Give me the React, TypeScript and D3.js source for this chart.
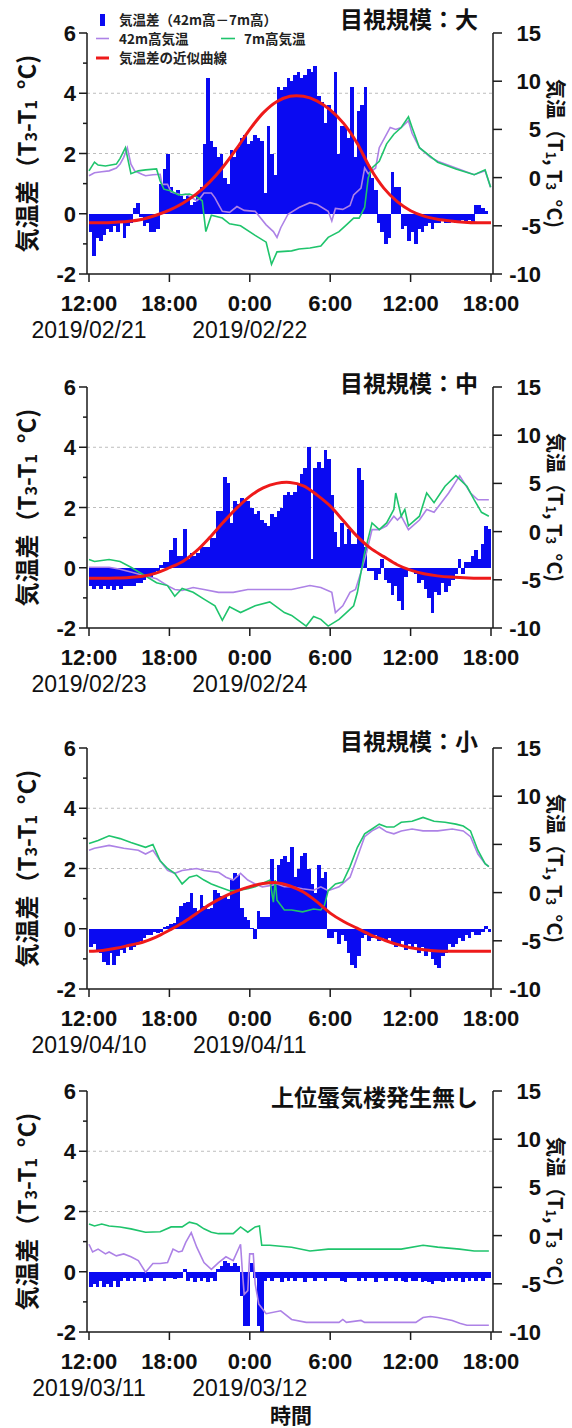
import React from 'react';
import * as d3 from 'd3';

// ---------- shared axis data ----------
const tickHours = [0, 6, 12, 18, 24, 30];
const tickLabels = ['12:00', '18:00', '0:00', '6:00', '12:00', '18:00'];
const leftTicks = [6, 4, 2, 0, -2];
const leftMinor = [5, 3, 1, -1];
const rightTicks = [15, 10, 5, 0, -5, -10];
const gridValues = [4, 2];
const redHours = d3.range(0, 31);

const titles = ['目視規模：大', '目視規模：中', '目視規模：小', '上位蜃気楼発生無し'];
const dates = [
  ['2019/02/21', '2019/02/22'],
  ['2019/02/23', '2019/02/24'],
  ['2019/04/10', '2019/04/11'],
  ['2019/03/11', '2019/03/12'],
];

// ---------- temperature difference bars (15-min steps from 12:00) ----------
const diff1 = [
  -0.6, -1.4, -0.8, -0.9, -0.7, -0.5, -0.6, -0.4, -0.6, -0.3, -0.8, -0.4,
  -0.3, 0.2, 0.35, -0.1, -0.4, -0.3, -0.6, -0.6, -0.5, 1.0, 1.5, 2.0,
  0.9, 0.7, 0.8, 0.6, 0.5, 0.6, 0.3, 0.4, 0.7, 0.9, 2.3, 4.5,
  2.4, 2.2, 1.9, 2.0, 1.2, 1.0, 2.1, 1.9, 2.2, 2.5, 2.6, 2.3,
  2.4, 2.6, 2.5, 2.4, 0.7, 2.9, 2.0, 1.3, 4.2, 4.1, 4.2, 4.5,
  4.4, 4.6, 4.7, 4.5, 4.6, 4.8, 4.7, 4.9, 3.9, 3.7, 3.0, 3.6,
  3.4, 4.7, 2.0, 2.9, 2.9, 2.5, 4.2, 1.9, 3.4, 3.6, 4.2, 1.6,
  1.2, 0.8, -0.3, -0.6, -1.0, -0.8, 1.4, 0.9, 0.9, -0.5, -0.4, -0.9,
  -0.6, -1.0, -0.5, -0.6, -0.4, -0.3, -0.5, -0.3, -0.3, -0.2, -0.3, -0.3,
  -0.2, -0.3, -0.3, -0.2, -0.3, -0.2, -0.3, 0.3, 0.3, 0.2, 0.1, 0.0,
];
const diff2 = [
  -0.6, -0.7, -0.6, -0.7, -0.6, -0.7, -0.6, -0.75, -0.6, -0.7, -0.6, -0.6,
  -0.6, -0.6, -0.5, -0.5, -0.4, -0.3, -0.3, -0.2, -0.1, 0.1, 0.2, 0.2,
  0.6, 1.0, 0.4, 0.4, 1.3, 0.3, 0.5, 0.4, 0.5, 0.7, 0.7, 0.7,
  1.0, 1.0, 1.9, 1.9, 3.0, 2.8, 1.5, 2.2, 2.1, 2.3, 2.2, 2.2,
  2.0, 1.8, 1.9, 1.6, 1.5, 1.4, 1.8, 1.7, 1.9, 2.0, 2.4, 2.5,
  2.4, 2.5, 2.8, 3.1, 3.3, 4.0, 0.3, 3.3, 3.5, 3.3, 3.9, 3.6,
  2.4, 1.2, 0.7, 1.5, 0.8, 1.3, 0.8, 0.8, 3.3, 2.9, 0.7, -0.1,
  -0.1, -0.4, -0.2, 0.3, -0.4, -0.5, -0.9, -0.6, -1.1, -1.4, -0.3, -0.1,
  -0.1, -0.2, -0.5, -0.4, -0.7, -1.0, -1.5, -0.8, -0.9, -0.5, -0.8, -0.6,
  -0.4, -0.2, 0.3, -0.2, 0.2, 0.2, 0.4, 0.6, 0.3, 0.8, 1.4, 1.3,
];
const diff3 = [
  -0.6, -0.5, -0.7, -0.8, -1.1, -1.2, -0.8, -1.2, -0.9, -0.7, -0.8, -0.6,
  -0.7, -0.6, -0.5, -0.4, -0.3, -0.2, -0.2, -0.1, -0.15, -0.1, 0.07, 0.1,
  0.15, 0.18, 0.4, 0.75, 0.85, 0.9, 1.18, 0.7, 0.6, 1.12, 0.75, 0.65,
  0.7, 1.3, 1.2, 1.1, 1.1, 1.0, 1.62, 1.84, 1.8, 0.7, 0.4, 0.3,
  0.02, -0.35, 0.6, 0.4, 0.4, 0.4, 2.3, 1.5, 2.1, 2.3, 2.4, 2.2,
  2.7, 1.73, 2.0, 2.4, 2.5, 2.0, 1.5, 1.2, 2.1, 1.7, 1.9, -0.3,
  -0.3, -0.1, -0.5, -0.2, -0.4, -0.8, -1.2, -1.3, -0.9, -0.3, -0.2, -0.4,
  -0.3, -0.2, -0.4, -0.3, -0.4, -0.3, -0.5, -0.6, -0.5, -0.4, -0.7, -0.5,
  -0.6, -0.5, -0.8, -0.6, -0.9, -0.7, -1.0, -1.2, -1.3, -0.9, -0.8, -0.5,
  -0.6, -0.5, -0.3, -0.4, -0.2, -0.3, -0.1, -0.2, -0.2, -0.1, 0.1, -0.1,
];
const diff4 = [
  -0.5, -0.4, -0.5, -0.3, -0.5, -0.4, -0.5, -0.3, -0.5, -0.3, -0.2, -0.3,
  -0.2, -0.3, -0.2, -0.2, -0.35, -0.2, -0.3, -0.2, -0.2, -0.2, -0.3, -0.2,
  -0.2, -0.25, -0.2, -0.2, 0.1, -0.3, -0.2, -0.35, -0.2, -0.3, -0.2, -0.35,
  -0.2, -0.3, 0.1, 0.2, 0.35, 0.3, 0.2, 0.3, 0.2, -0.8, -1.8, -1.8,
  0.3, -0.2, -1.8, -2.0, -0.3, -0.2, -0.3, -0.2, -0.2, -0.35, -0.2, -0.3,
  -0.2, -0.3, -0.2, -0.2, -0.35, -0.2, -0.2, -0.3, -0.2, -0.2, -0.3, -0.2,
  -0.2, -0.2, -0.2, -0.3, -0.35, -0.2, -0.2, -0.2, -0.3, -0.2, -0.3, -0.2,
  -0.2, -0.35, -0.2, -0.2, -0.3, -0.2, -0.2, -0.3, -0.2, -0.3, -0.35, -0.2,
  -0.3, -0.3, -0.2, -0.35, -0.3, -0.35, -0.4, -0.3, -0.3, -0.35, -0.2, -0.3,
  -0.2, -0.3, -0.2, -0.35, -0.2, -0.3, -0.2, -0.3, -0.2, -0.3, -0.2, -0.2,
];

// ---------- 42m air temperature [hours after 12:00, °C] ----------
const t42_1 = [
  [0, 0.2], [0.41, 0.5], [0.95, 0.6], [1.5, 0.7], [2.04, 1.0], [2.32, 1.4], [2.59, 2.1], [2.86, 3.1],
  [3.13, 1.4], [3.41, 0.7], [3.95, 0.35], [4.22, 0.2], [4.77, 0.3], [5.31, 0.35], [5.45, -0.7], [5.86, -0.7],
  [6.13, -1.5], [6.95, -1.8], [7.22, -1.7], [8.04, -2.4], [8.31, -2.1], [8.58, -1.6], [9.13, -1.6], [9.4, -2.1],
  [9.67, -2.8], [9.95, -3.5], [10.49, -3.6], [11.04, -3.0], [11.58, -3.4], [12.4, -3.5], [13.22, -4.9], [13.76, -5.6],
  [14.03, -6.2], [14.31, -5.2], [14.85, -3.8], [15.67, -3.1], [16.49, -2.6], [17.03, -2.8], [17.85, -3.5], [18.12, -4.5],
  [18.39, -3.2], [18.94, -3.3], [19.48, -2.9], [19.75, -1.8], [20.3, -1.1], [20.57, 1.0], [20.84, 0.4], [21.39, 1.0],
  [21.66, 3.1], [22.21, 4.5], [22.48, 5.2], [22.89, 5.0], [23.3, 5.2], [23.84, 5.9], [24.11, 4.6], [24.66, 3.1],
  [25.48, 2.1], [26.02, 1.7], [27.38, 1.0], [28.75, 0.3], [29.56, 0.7], [29.97, -1.0],
];
const t42_2 = [
  [0, -3.7], [1.5, -3.7], [2.32, -3.9], [3.13, -4.2], [4.22, -4.6], [5.04, -4.9], [5.86, -5.6], [6.4, -6.0],
  [6.95, -6.1], [7.77, -5.8], [8.58, -6.0], [9.67, -6.3], [10.76, -6.3], [11.85, -6.0], [12.94, -6.0], [14.03, -6.0],
  [15.12, -6.0], [16.49, -5.6], [17.3, -5.8], [18.12, -6.3], [18.39, -8.4], [18.94, -7.7], [19.48, -6.3], [19.89, -6.0],
  [20.3, -4.2], [20.71, -2.2], [21.12, 0.2], [21.66, 0.2], [22.21, 0.6], [22.75, 1.6], [23.02, 1.2], [23.3, 1.6],
  [23.84, 0.2], [24.66, 1.2], [25.2, 2.3], [25.75, 2.0], [26.29, 3.0], [26.84, 4.0], [27.66, 5.8], [28.47, 4.0],
  [29.02, 3.3], [29.84, 3.3],
];
const t42_3 = [
  [0, 4.4], [0.41, 4.6], [1.5, 4.9], [2.59, 4.6], [3.68, 4.4], [4.22, 4.0], [4.77, 4.4], [5.31, 3.3],
  [5.86, 2.3], [6.4, 2.0], [6.95, 2.3], [8.04, 2.5], [8.58, 2.3], [9.67, 2.1], [10.22, 1.6], [10.76, 1.3],
  [11.31, 2.0], [11.85, 1.3], [12.4, 0.9], [12.94, 0.6], [13.62, 0.75], [14.03, 0.9], [14.58, 0.6], [15.12, 0.6],
  [15.94, 0.4], [16.76, 0.25], [17.3, 0.6], [17.85, 0.2], [18.66, 0.6], [19.48, 1.6], [20.03, 3.7], [20.57, 5.8],
  [21.12, 6.4], [21.66, 6.8], [22.21, 6.3], [22.75, 6.1], [23.3, 6.4], [24.11, 6.6], [24.93, 6.4], [26.02, 6.4],
  [27.11, 6.6], [27.93, 6.4], [28.47, 5.8], [29.02, 4.0], [29.56, 3.0], [29.84, 2.7],
];
const t42_4 = [
  [0, -0.9], [0.27, -1.7], [0.68, -1.4], [1.23, -1.9], [1.5, -1.7], [2.04, -2.1], [2.59, -1.9], [3.13, -2.2],
  [3.68, -2.6], [4.22, -3.8], [4.77, -2.9], [5.31, -2.9], [5.86, -2.8], [6.27, -1.4], [6.68, -1.7], [6.95, -1.6],
  [7.22, -0.7], [7.63, 0.3], [8.04, -1.2], [8.58, -2.8], [9.13, -3.5], [9.67, -2.8], [10.22, -2.2], [10.76, -2.6],
  [11.31, -0.9], [11.44, -3.6], [11.58, -6.1], [11.85, -5.7], [11.99, -1.9], [12.26, -1.9], [12.4, -5.0], [12.67, -7.1],
  [13.22, -8.1], [14.31, -7.8], [15.12, -8.7], [16.21, -9.0], [18.66, -9.0], [18.94, -8.7], [19.21, -9.0], [20.3, -8.8],
  [20.57, -9.0], [24.39, -9.0], [24.93, -8.5], [25.48, -8.4], [26.02, -8.5], [27.11, -8.8], [27.66, -9.1], [28.2, -9.3],
  [29.84, -9.3],
];

// ---------- 7m air temperature [hours after 12:00, °C] ----------
const t7_1 = [
  [0, 0.7], [0.41, 1.6], [0.68, 1.3], [1.23, 1.2], [2.04, 1.4], [2.32, 2.0], [2.72, 3.1], [3.13, 0.4],
  [3.68, 0.7], [4.22, 0.8], [5.04, 0.9], [5.31, -0.35], [5.59, -1.2], [6.13, -1.4], [6.68, -1.8], [7.49, -1.7],
  [8.04, -2.0], [8.45, -2.4], [8.72, -5.6], [9.13, -3.9], [9.95, -4.2], [10.49, -4.8], [11.31, -5.0], [12.4, -6.0],
  [13.22, -6.7], [13.62, -9.0], [14.03, -7.7], [15.12, -7.6], [15.67, -7.4], [16.49, -7.3], [17.3, -7.1], [17.85, -6.2],
  [18.66, -5.6], [19.21, -4.9], [19.75, -4.2], [20.16, -4.2], [20.57, -3.1], [20.84, 0.0], [21.12, 1.0], [21.66, 1.7],
  [22.21, 3.5], [22.75, 4.5], [23.3, 5.2], [23.84, 6.3], [24.11, 5.2], [24.66, 3.1], [25.48, 2.2], [26.02, 1.6],
  [27.38, 0.9], [28.75, 0.3], [29.56, 0.8], [29.97, -1.0],
];
const t7_2 = [
  [0, -2.9], [0.41, -3.1], [1.5, -2.9], [2.32, -3.1], [3.13, -3.7], [4.22, -4.6], [5.04, -5.3], [5.86, -5.6],
  [6.4, -6.7], [6.95, -5.9], [7.77, -6.3], [8.58, -7.0], [9.4, -7.7], [9.95, -9.2], [10.49, -7.8], [11.31, -8.4],
  [12.4, -7.7], [13.49, -7.3], [14.58, -8.4], [15.12, -8.7], [16.21, -9.8], [16.76, -8.8], [17.3, -9.1], [17.85, -9.8],
  [18.66, -9.1], [19.21, -8.4], [19.75, -7.7], [20.03, -6.3], [20.3, -4.2], [20.57, -2.2], [21.12, 0.9], [21.66, 0.2],
  [22.21, 0.9], [22.75, 2.3], [22.89, 4.0], [23.3, 1.6], [23.57, 2.3], [23.84, 0.6], [24.66, 1.6], [25.2, 4.0],
  [25.75, 3.0], [26.57, 4.7], [27.38, 5.8], [28.2, 4.7], [28.75, 3.3], [29.29, 2.0], [29.84, 1.6],
];
const t7_3 = [
  [0, 5.1], [0.68, 5.4], [1.5, 5.9], [2.32, 5.6], [3.13, 5.2], [4.22, 4.7], [4.77, 5.0], [5.31, 3.3],
  [5.86, 2.5], [6.4, 2.0], [6.95, 0.9], [7.49, 1.6], [8.04, 1.8], [8.58, 1.3], [9.13, 0.9], [9.67, 0.6],
  [10.49, 0.2], [11.04, 0.2], [11.85, 0.4], [12.4, 0.6], [13.49, 1.3], [13.76, -1.0], [13.9, 1.3], [14.03, -0.8],
  [14.58, -1.8], [15.12, -1.8], [15.94, -2.0], [16.76, -1.7], [17.3, -1.8], [17.57, -1.3], [17.85, 0.2], [18.39, 0.9],
  [18.94, 1.1], [19.48, 2.7], [20.03, 4.7], [20.57, 6.1], [21.12, 6.6], [21.66, 7.1], [22.21, 6.8], [22.75, 6.8],
  [23.3, 7.3], [24.11, 7.4], [24.93, 7.8], [25.75, 7.4], [26.57, 7.3], [27.38, 7.1], [27.93, 6.9], [28.47, 6.4],
  [29.02, 4.4], [29.56, 3.0], [29.84, 2.7],
];
const t7_4 = [
  [0, 1.2], [0.41, 1.0], [0.95, 1.2], [1.5, 1.0], [2.32, 0.9], [3.13, 0.7], [4.22, 0.35], [5.31, 0.4],
  [6.13, 0.9], [6.95, 0.9], [7.49, 1.4], [8.04, 1.2], [8.58, 0.7], [9.13, 0.35], [9.67, 0.2], [10.76, 0.2],
  [11.31, 0.9], [11.85, 0.35], [12.4, 0.9], [12.72, 1.0], [12.89, -1.0], [13.49, -1.0], [15.12, -1.2], [16.49, -1.6],
  [17.85, -1.4], [20.57, -1.4], [23.3, -1.4], [24.93, -1.0], [26.02, -1.2], [27.66, -1.4], [28.75, -1.6], [29.84, -1.6],
];

// ---------- fitted curve of the temperature difference (hourly) ----------
const fit1 = [
  -0.3, -0.3, -0.28, -0.25, -0.18, -0.05, 0.12, 0.35, 0.65, 1.05, 1.55, 2.15, 2.8, 3.35, 3.72, 3.9,
  3.9, 3.75, 3.45, 3.0, 2.35, 1.5, 0.85, 0.4, 0.1, -0.08, -0.18, -0.24, -0.28, -0.3, -0.3,
];
const fit2 = [
  -0.35, -0.35, -0.34, -0.32, -0.28, -0.18, 0.0, 0.21, 0.55, 1.0, 1.5, 1.97, 2.37, 2.65, 2.8, 2.83,
  2.72, 2.42, 2.05, 1.55, 1.05, 0.65, 0.37, 0.1, -0.08, -0.2, -0.27, -0.31, -0.33, -0.35, -0.35,
];
const fit3 = [
  -0.75, -0.72, -0.65, -0.55, -0.45, -0.28, -0.05, 0.2, 0.5, 0.8, 1.05, 1.25, 1.4, 1.5, 1.53, 1.42,
  1.22, 0.9, 0.52, 0.24, 0.02, -0.2, -0.37, -0.52, -0.63, -0.7, -0.74, -0.75, -0.75, -0.75, -0.75,
];

const diffs = [diff1, diff2, diff3, diff4];
const temps42 = [t42_1, t42_2, t42_3, t42_4];
const temps7 = [t7_1, t7_2, t7_3, t7_4];
const fits = [fit1, fit2, fit3, null];
const panelTops = [33, 387, 748, 1091];
const titleBaselines = [28, 392, 750, 1106];

// ---------- styles ----------
const FONT = '"Noto Sans CJK JP", "Noto Sans", sans-serif';
const NUMFONT = '"Liberation Sans", Arial, sans-serif';
const BLUE = '#0a0af2';
const PURPLE = '#ad82e6';
const GREEN = '#1fc46c';
const RED = '#ee1a1a';
const AXIS = '#1a1a1a';
const PANEL_H = 241;
const X0 = 89;
const X1 = 491;
const AXL = 87;
const AXR = 493;

function Panel({ idx }: { idx: number }) {
  const top = panelTops[idx];
  const bottom = top + PANEL_H;
  const x = d3.scaleLinear().domain([0, 30]).range([X0, X1]);
  const yL = d3.scaleLinear().domain([-2, 6]).range([bottom, top]);
  const yR = d3.scaleLinear().domain([-10, 15]).range([bottom, top]);
  const bw = x(0.25) - x(0);
  const line = d3
    .line<number[]>()
    .x((d) => x(d[0]))
    .y((d) => yR(d[1]));
  const fitLine = d3
    .line<number>()
    .x((_, i) => x(redHours[i]))
    .y((d) => yL(d))
    .curve(d3.curveCatmullRom);
  const fit = fits[idx];
  const midY = (top + bottom) / 2;

  return (
    <g>
      {gridValues.map((g) => (
        <line
          key={'g' + g}
          x1={AXL}
          x2={AXR}
          y1={yL(g)}
          y2={yL(g)}
          stroke="#bdbdbd"
          strokeWidth={1}
          strokeDasharray="3,3"
        />
      ))}
      <g shapeRendering="crispEdges">
        {diffs[idx].map((v, i) => {
          const y0 = yL(0);
          const yv = yL(v);
          return (
            <rect
              key={i}
              x={x(i * 0.25)}
              width={bw + 0.4}
              y={Math.min(y0, yv)}
              height={Math.abs(yv - y0)}
              fill={BLUE}
            />
          );
        })}
      </g>
      <path d={line(temps42[idx] as number[][]) || ''} fill="none" stroke={PURPLE} strokeWidth={1.6} />
      <path d={line(temps7[idx] as number[][]) || ''} fill="none" stroke={GREEN} strokeWidth={1.6} />
      {fit && <path d={fitLine(fit) || ''} fill="none" stroke={RED} strokeWidth={3} />}

      {/* axes */}
      <line x1={AXL} x2={AXL} y1={top} y2={bottom} stroke={AXIS} strokeWidth={1.5} />
      <line x1={AXR} x2={AXR} y1={top} y2={bottom} stroke={AXIS} strokeWidth={1.5} />
      <line x1={AXL} x2={AXR} y1={bottom} y2={bottom} stroke={AXIS} strokeWidth={1.5} />
      {leftTicks.map((t) => (
        <g key={'lt' + t}>
          <line x1={AXL - 8} x2={AXL} y1={yL(t)} y2={yL(t)} stroke={AXIS} strokeWidth={1.5} />
          <text
            x={76}
            y={yL(t) + 8}
            textAnchor="end"
            fontSize={22}
            fontWeight="bold"
            fontFamily={NUMFONT}
            fill="#111"
          >
            {t}
          </text>
        </g>
      ))}
      {leftMinor.map((t) => (
        <line key={'lm' + t} x1={AXL - 4} x2={AXL} y1={yL(t)} y2={yL(t)} stroke={AXIS} strokeWidth={1.5} />
      ))}
      {rightTicks.map((t) => (
        <g key={'rt' + t}>
          <line x1={AXR} x2={AXR + 9} y1={yR(t)} y2={yR(t)} stroke={AXIS} strokeWidth={1.5} />
          <text
            x={541}
            y={yR(t) + 8}
            textAnchor="end"
            fontSize={22}
            fontWeight="bold"
            fontFamily={NUMFONT}
            fill="#111"
          >
            {t}
          </text>
        </g>
      ))}
      {tickHours.map((h, i) => (
        <g key={'xt' + h}>
          <line x1={x(h)} x2={x(h)} y1={bottom} y2={bottom + 8} stroke={AXIS} strokeWidth={1.5} />
          <text
            x={x(h)}
            y={bottom + 37}
            textAnchor="middle"
            fontSize={22}
            fontWeight="bold"
            fontFamily={NUMFONT}
            fill="#111"
          >
            {tickLabels[i]}
          </text>
        </g>
      ))}
      {dates[idx].map((d, i) => (
        <text
          key={'d' + i}
          x={x(i * 12)}
          y={bottom + 64}
          textAnchor="middle"
          fontSize={23}
          fontFamily={NUMFONT}
          fill="#111"
        >
          {d}
        </text>
      ))}

      {/* axis titles */}
      <text
        transform={`translate(25, ${midY}) rotate(-90)`}
        textAnchor="middle"
        dominantBaseline="central"
        fontSize={24}
        fontWeight="bold"
        fontFamily={FONT}
        fill="#111"
      >
        気温差（T<tspan fontSize={16} dy={5}>3</tspan>
        <tspan dy={-5}>-T</tspan>
        <tspan fontSize={16} dy={5}>1</tspan>
        <tspan dy={-5}>{'\u00a0\u00a0°C)'}</tspan>
      </text>
      <text
        transform={`translate(556, ${midY}) rotate(90)`}
        textAnchor="middle"
        dominantBaseline="central"
        fontSize={20}
        fontWeight="bold"
        fontFamily={FONT}
        fill="#111"
      >
        気温（T<tspan fontSize={13} dy={4}>1</tspan>
        <tspan dy={-4}>, T</tspan>
        <tspan fontSize={13} dy={4}>3</tspan>
        <tspan dy={-4}>{'\u00a0\u00a0°C)'}</tspan>
      </text>

      {/* panel title */}
      <text
        x={478}
        y={titleBaselines[idx]}
        textAnchor="end"
        fontSize={23}
        fontWeight="bold"
        fontFamily={FONT}
        fill="#111"
      >
        {titles[idx]}
      </text>
    </g>
  );
}

function Legend() {
  const fs = 13.5;
  return (
    <g fontFamily={FONT} fontSize={fs} fontWeight="bold" fill="#222">
      <rect x={100} y={14} width={5} height={12} fill={BLUE} />
      <text x={119} y={25}>気温差（42m高－7m高）</text>
      <line x1={96} x2={109} y1={38.5} y2={38.5} stroke={PURPLE} strokeWidth={1.6} />
      <text x={119} y={43.5}>42m高気温</text>
      <line x1={221} x2={235} y1={38.5} y2={38.5} stroke={GREEN} strokeWidth={1.6} />
      <text x={244} y={43.5}>7m高気温</text>
      <line x1={96} x2={109} y1={58} y2={58} stroke={RED} strokeWidth={3} />
      <text x={119} y={63}>気温差の近似曲線</text>
    </g>
  );
}

export default function App() {
  return (
    <svg
      width={572}
      height={1428}
      viewBox="0 0 572 1428"
      style={{ position: 'absolute', left: 0, top: 0, background: '#fff' }}
    >
      <rect width={572} height={1428} fill="#fff" />
      {[0, 1, 2, 3].map((i) => (
        <Panel key={i} idx={i} />
      ))}
      <Legend />
      <text
        x={291}
        y={1423}
        textAnchor="middle"
        fontSize={21}
        fontWeight="bold"
        fontFamily={FONT}
        fill="#111"
      >
        時間
      </text>
    </svg>
  );
}
